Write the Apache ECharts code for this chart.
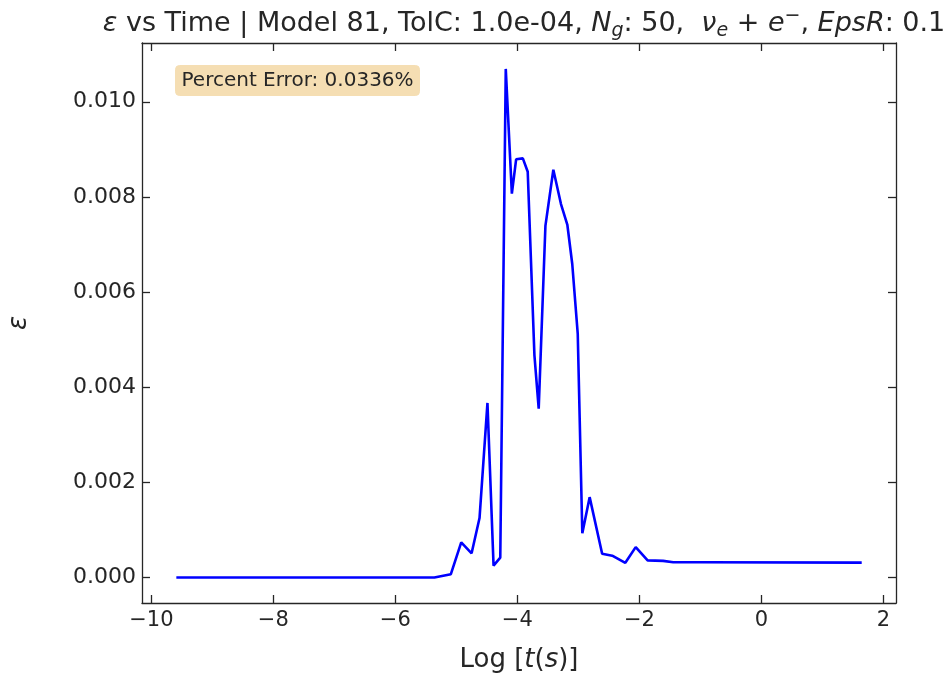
<!DOCTYPE html>
<html>
<head>
<meta charset="utf-8">
<script src="https://cdn.jsdelivr.net/npm/echarts@6/dist/echarts.min.js"></script>
<style>
html,body{margin:0;padding:0;background:#fff;}
#chart{width:951px;height:681px;}
</style>
</head>
<body>
<div id="chart"></div>
<script>
// Data
const logTime = [-9.59, -5.36, -5.09, -4.92, -4.75, -4.62, -4.49, -4.39, -4.28, -4.19, -4.09, -4.02, -3.91, -3.83, -3.72, -3.65, -3.54, -3.41, -3.285, -3.18, -3.10, -3.01, -2.935, -2.815, -2.61, -2.445, -2.23, -2.06, -1.865, -1.61, -1.445, -1.01, 1.645];
const epsValues = [0.0, 0.0, 0.00007, 0.00074, 0.00051, 0.00125, 0.00367, 0.00025, 0.00042, 0.01069, 0.00807, 0.00879, 0.00881, 0.00853, 0.00467, 0.00355, 0.00739, 0.00857, 0.00785, 0.00741, 0.00659, 0.00512, 0.00093, 0.00169, 0.00050, 0.00046, 0.00031, 0.00064, 0.00036, 0.00035, 0.00032, 0.00032, 0.000314];
const xTicks = [-10, -8, -6, -4, -2, 0, 2];
const yTicks = [0.000, 0.002, 0.004, 0.006, 0.008, 0.010];
const annotationText = 'Percent Error: 0.0336%';

const xMin = -10.153, xMax = 2.207;
const yMin = -0.000535, yMax = 0.011235;
const txt = '#262626';
const font = 'DejaVu Sans';

const chart = echarts.init(document.getElementById('chart'), null, {renderer: 'canvas'});
const axisCommon = {
  type: 'value',
  splitLine: {show: false},
  axisLine: {show: true, onZero: false, lineStyle: {color: txt, width: 1.3}},
};
const fmtNum = (v, d) => {
  const s = Number(v).toFixed(d);
  return s.replace('-', '\u2212');
};
const T = 27, S = 19;
const option = {
  animation: false,
  backgroundColor: '#fff',
  title: {
    left: 519, textAlign: 'center', top: 2,
    text: '{i|ε}{n| vs Time | Model 81, TolC: 1.0e-04, }{i|N}{sub|g}{n|: 50,  }{i|ν}{sub|e}{n| + }{i|e}{sup|−}{n|, }{i|EpsR}{n|: 0.1}',
    textStyle: {
      fontWeight: 'normal',
      rich: {
        n: {fontFamily: font, fontSize: T, fontWeight: 'normal', color: txt, lineHeight: 34, verticalAlign: 'middle'},
        i: {fontFamily: font, fontSize: T, fontWeight: 'normal', color: txt, fontStyle: 'italic', lineHeight: 34, verticalAlign: 'middle'},
        sub: {fontFamily: font, fontSize: S, fontWeight: 'normal', color: txt, fontStyle: 'italic', lineHeight: 34, verticalAlign: 'bottom'},
        sup: {fontFamily: font, fontSize: S, fontWeight: 'normal', color: txt, lineHeight: 34, verticalAlign: 'top'}
      }
    }
  },
  grid: {left: 142, top: 43, right: 55, bottom: 78, containLabel: false, outerBoundsMode: 'none'},
  xAxis: [
    Object.assign({}, axisCommon, {
      position: 'bottom', min: xMin, max: xMax,
      axisTick: {show: true, inside: true, length: 8, customValues: xTicks, lineStyle: {color: txt, width: 1.3}},
      axisLabel: {show: true, customValues: xTicks, formatter: v => fmtNum(v, 0), fontFamily: font, fontSize: 21, color: txt, margin: 7},
      name: '{n|Log [}{i|t}{n|(}{i|s}{n|)]}', nameLocation: 'middle', nameGap: 44,
      nameTextStyle: {rich: {
        n: {fontFamily: font, fontSize: 26, color: txt},
        i: {fontFamily: font, fontSize: 26, color: txt, fontStyle: 'italic'}
      }}
    }),
    Object.assign({}, axisCommon, {
      position: 'top', min: xMin, max: xMax,
      axisTick: {show: true, inside: true, length: 8, customValues: xTicks, lineStyle: {color: txt, width: 1.3}},
      axisLabel: {show: false}
    })
  ],
  yAxis: [
    Object.assign({}, axisCommon, {
      position: 'left', min: yMin, max: yMax,
      axisTick: {show: true, inside: true, length: 8, customValues: yTicks, lineStyle: {color: txt, width: 1.3}},
      axisLabel: {show: true, customValues: yTicks, formatter: v => fmtNum(v, 3), fontFamily: font, fontSize: 22, color: txt, margin: 6},
      name: 'ε', nameLocation: 'middle', nameRotate: 90, nameGap: 110,
      nameTextStyle: {fontFamily: font, fontSize: 26, color: txt, fontStyle: 'italic'}
    }),
    Object.assign({}, axisCommon, {
      position: 'right', min: yMin, max: yMax,
      axisTick: {show: true, inside: true, length: 8, customValues: yTicks, lineStyle: {color: txt, width: 1.3}},
      axisLabel: {show: false}
    })
  ],
  graphic: [{
    type: 'group', left: 175, top: 65,
    children: [
      {type: 'rect', shape: {x: 0, y: 0, width: 244, height: 30, r: 4}, style: {fill: '#f5deb3', stroke: '#f5deb3'}},
      {type: 'text', x: 6, y: 15, style: {text: annotationText, font: '20px "DejaVu Sans"', fill: txt, verticalAlign: 'middle'}}
    ]
  }],
  series: [{
    type: 'line',
    xAxisIndex: 0, yAxisIndex: 0,
    data: logTime.map((x, i) => [x, epsValues[i]]),
    showSymbol: false, symbol: 'none',
    lineStyle: {color: '#0000ff', width: 2.6},
    clip: true
  }]
};
chart.setOption(option);
</script>
</body>
</html>
